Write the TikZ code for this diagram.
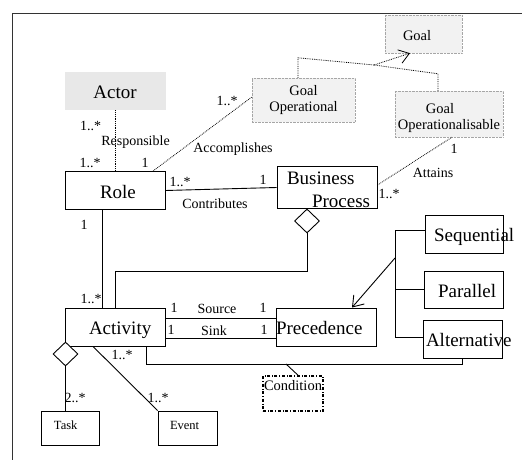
\documentclass[tikz,border=0pt]{standalone}
\usepackage{fontspec}
\setmainfont{Liberation Serif}
\usetikzlibrary{arrows.meta,shapes.geometric,positioning}

\begin{document}
\begin{tikzpicture}[x=1pt,y=-1pt,
		cls/.style={draw,line width=0.9pt,inner sep=0pt,font=\fontsize{19}{23}\selectfont},
		one/.style={text height=15pt,text depth=0pt},
		ghost/.style={draw=gray!70,densely dotted,fill=gray!10,inner sep=0pt,align=center,font=\fontsize{14.5}{16}\selectfont},
		leaf/.style={draw,line width=0.9pt,inner sep=0pt,font=\fontsize{12.5}{14}\selectfont,text height=9pt,text depth=7pt},
		mult/.style={inner sep=0pt,font=\fontsize{14}{16}\selectfont,text height=10pt,text depth=0pt},
		agg/.style={draw,diamond,fill=white,line width=0.9pt,minimum width=25pt,minimum height=24pt,inner sep=0pt},
		link/.style={line width=0.9pt},
		dep/.style={densely dotted,line width=0.8pt},
		open/.style={-{Straight Barb[length=10pt,width=14pt]}}]
		\useasboundingbox (0,0) rectangle (522,460);
		\draw[line width=0.8pt,gray!40!black] (12,460) |- (522,13);
		\node[cls,one,draw=none,fill=gray!18,minimum width=101pt,minimum height=38pt] (actor) at (115,91) {Actor};
		\node[ghost,text height=14pt,text depth=0pt,minimum width=77pt,minimum height=38pt] (goal) at (423.5,34) {\makebox[77pt][l]{\hspace{18pt}Goal}};
		\node[ghost,minimum width=103pt,minimum height=44pt] (goalop) at (303.5,100) {Goal\\Operational};
		\node[ghost,align=left,minimum width=108pt,minimum height=46pt] (goalopz) at (449,114) {\rule{0pt}{19pt}\hspace*{28pt}Goal\\Operationalisable};
		\node[cls,one,minimum width=100pt,minimum height=38pt] (role) at (115,190.5) {\makebox[100pt][l]{\hspace{35pt}Role}};
		\node[cls,align=left,minimum width=100pt,minimum height=39pt] (bp) at (327,187.5) {\rule{0pt}{18pt}\makebox[100pt][l]{\hspace{10pt}Business}\\\makebox[100pt][l]{\hspace{35pt}Process}};
		\node[cls,one,minimum width=100pt,minimum height=38pt] (activity) at (115,327) {\makebox[100pt][l]{\hspace{24pt}Activity}};
		\node[cls,one,minimum width=100pt,minimum height=38pt] (prec) at (326,327) {\makebox[100pt][l]{Precedence}};
		\node[cls,one,minimum width=78pt,minimum height=38pt] (seq) at (464,234) {\makebox[78pt][l]{\hspace{9pt}Sequential}};
		\node[cls,one,minimum width=79pt,minimum height=37pt] (par) at (463.5,289.5) {\makebox[79pt][l]{\hspace{14pt}Parallel}};
		\node[cls,one,minimum width=79pt,minimum height=38pt] (alt) at (462.5,339) {\makebox[79pt][l]{\hspace{3pt}Alternative}};
		\node[draw,dash dot,line width=1.6pt,inner sep=0pt,font=\fontsize{14.5}{16}\selectfont,text height=14pt,text depth=21pt,minimum width=60pt] (cond) at (293,393.5) {Condition};
		\node[leaf,minimum width=58pt,minimum height=34pt] (task) at (70,428) {\makebox[58pt][l]{\hspace{13pt}Task}};
		\node[leaf,minimum width=59pt,minimum height=34pt] (event) at (187.5,428) {\makebox[59pt][l]{\hspace{12pt}Event}};
		\node[agg,anchor=north] (bpagg) at ([xshift=-20pt]bp.south) {};
		\node[agg] (actagg) at (65.5,354) {};
		\coordinate (gj) at (374,65);
		\coordinate (fork) at (395,258);
		\coordinate (cj) at (286,364);
		\draw[dep] (actor.south) -- (role.north);
		\draw[dep] ([xshift=38pt]role.north) -- ([yshift=3pt]goalop.west);
		\draw[dep] ([yshift=2.5pt]bp.east) -- ([xshift=3pt]goalopz.south);
		\draw[dep] ([xshift=-5.5pt]goalop.north) -- ++(0,-20) -- (gj);
		\draw[dep] ([xshift=-11pt]goalopz.north) -- ++(0,-17) -- (gj);
		\draw[dep,open] (gj) -- ([xshift=-13.5pt]goal.south);
		\draw[link] (role.east) -- (bp.west);
		\draw[link] ([xshift=-13pt]role.south) -- ([xshift=-13pt]activity.north);
		\draw[link] (bpagg.south) -- ++(0,38) -| (activity.north);
		\draw[link] ([yshift=9pt]activity.east) -- ([yshift=9pt]prec.west);
		\draw[link] ([yshift=-11pt]activity.east) -- ([yshift=-11pt]prec.west);
		\draw[link] ([xshift=-19pt]activity.south east) -- ++(0,18) -| (alt.south);
		\draw[link] (cj) -- ([xshift=5pt]cond.north);
		\draw[link] (actagg.south) -- (actagg.south |- task.north);
		\draw[link] ([xshift=-22pt]activity.south) -- (event.north west);
		\draw[link] ([yshift=4pt]seq.west) -| (395,337) -- ([yshift=2pt]alt.west);
		\draw[link] (par.west) -- (par.west -| fork);
		\draw[link,open] (fork) -- ([xshift=26pt]prec.north);
		\node[mult] (m1) at (90.5,125) {1..*};
		\node[mult] (resp) at (135.5,140) {Responsible};
		\node[mult] (m2) at (90,162) {1..*};
		\node[mult] (m3) at (145,162) {1};
		\node[mult] (m4) at (227,100) {1..*};
		\node[mult] (acc) at (233,147) {Accomplishes};
		\node[mult] (m5) at (180,181) {1..*};
		\node[mult] (contr) at (215,203) {Contributes};
		\node[mult] (m6) at (263,179) {1};
		\node[mult] (m7) at (454,148) {1};
		\node[mult] (att) at (433,172) {Attains};
		\node[mult] (m8) at (389,193) {1..*};
		\node[mult] (m9) at (84,224) {1};
		\node[mult] (m10) at (91,298) {1..*};
		\node[mult] (m11) at (174,307) {1};
		\node[mult] (src) at (217,308) {Source};
		\node[mult] (m12) at (263,307) {1};
		\node[mult] (m13) at (171,329) {1};
		\node[mult] (snk) at (214,330) {Sink};
		\node[mult] (m14) at (264,329) {1};
		\node[mult] (m15) at (122,354) {1..*};
		\node[mult] (m16) at (75,397) {2..*};
		\node[mult] (m17) at (158,397) {1..*};
\end{tikzpicture}
\end{document}
